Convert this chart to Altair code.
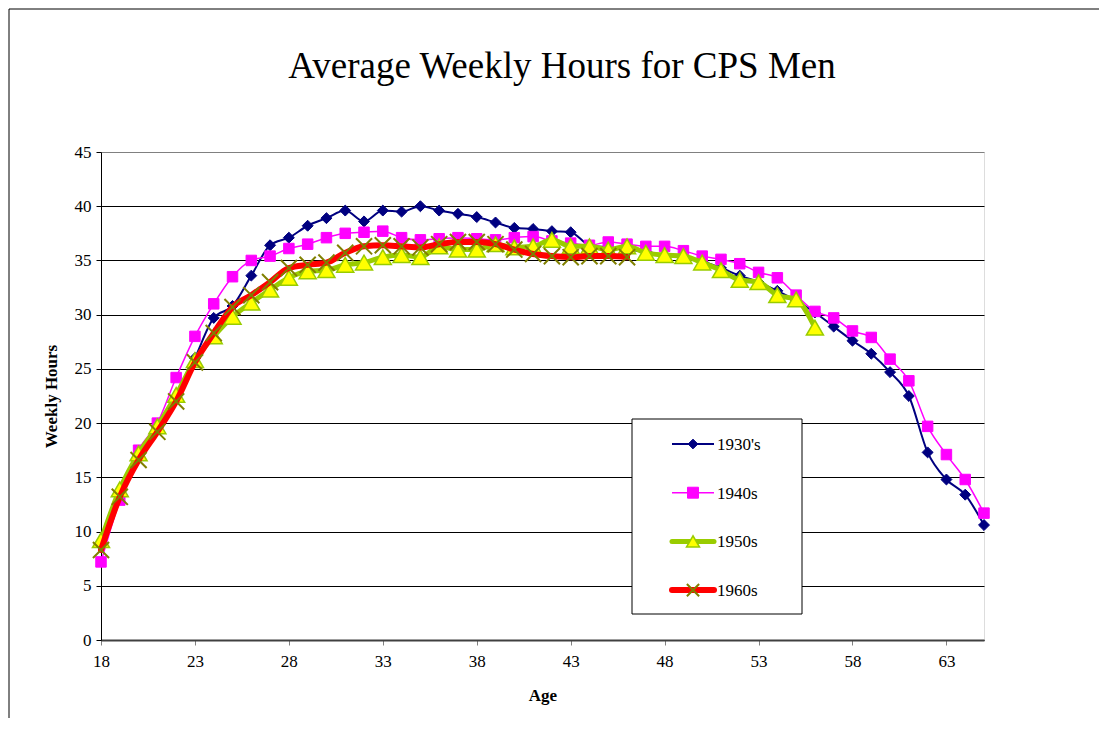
import altair as alt
import pandas as pd

# ---------------- data ----------------
ages_all = list(range(18, 66))

hours_1930 = [8.8, 13.6, 17.0, 19.6, 22.4, 26.0, 29.7, 30.8, 33.6, 36.4,
              37.1, 38.2, 38.9, 39.6, 38.6, 39.6, 39.5, 40.0, 39.6, 39.3,
              39.0, 38.5, 38.0, 37.9, 37.7, 37.6, 36.4, 36.2, 36.0, 35.8,
              35.5, 35.2, 34.9, 34.3, 33.6, 33.0, 32.2, 31.3, 30.2, 28.9,
              27.6, 26.4, 24.7, 22.5, 17.3, 14.8, 13.4, 10.6]

hours_1940 = [7.2, 12.9, 17.5, 20.0, 24.2, 28.0, 31.0, 33.5, 35.0, 35.4,
              36.1, 36.5, 37.1, 37.5, 37.6, 37.7, 37.1, 36.9, 37.0, 37.1,
              37.0, 36.9, 37.1, 37.2, 36.8, 36.6, 36.4, 36.7, 36.5, 36.3,
              36.3, 35.9, 35.4, 35.1, 34.7, 33.9, 33.4, 31.8, 30.3, 29.7,
              28.5, 27.9, 25.9, 23.9, 19.7, 17.1, 14.8, 11.7]

hours_1950 = [9.2, 13.9, 17.2, 19.7, 22.6, 25.8, 28.0, 29.8, 31.1, 32.3,
              33.4, 34.0, 34.1, 34.6, 34.8, 35.3, 35.5, 35.3, 36.3, 36.0,
              36.0, 36.5, 36.2, 36.3, 36.9, 36.3, 36.3, 36.0, 36.3, 35.7,
              35.5, 35.4, 34.8, 34.1, 33.2, 33.0, 31.8, 31.4, 28.8]

hours_1960 = [8.3, 13.2, 16.6, 19.2, 22.0, 25.6, 28.3, 30.7, 31.8, 33.0,
              34.3, 34.6, 34.8, 35.7, 36.3, 36.4, 36.3, 36.2, 36.5, 36.7,
              36.7, 36.5, 36.0, 35.6, 35.4, 35.3, 35.4, 35.4, 35.3]

series_names = ["1930's", "1940s", "1950s", "1960s"]
series_values = [hours_1930, hours_1940, hours_1950, hours_1960]

x_ticks = [18, 23, 28, 33, 38, 43, 48, 53, 58, 63]
y_ticks = [0, 5, 10, 15, 20, 25, 30, 35, 40, 45]

title_text = "Average Weekly Hours for CPS Men"

# ---------------- styles ----------------
FONT = "Liberation Serif"
X_PATH = "M-1,-1L1,1M-1,1L1,-1"
styles = {
    "1930's": dict(line="#000080", lw=2, shape="diamond", fill="#000080",
                   stroke="#000080", sw=1, size=120, lsize=95),
    "1940s": dict(line="#FF00FF", lw=1.5, shape="square", fill="#FF00FF",
                  stroke="#FF00FF", sw=1, size=110, lsize=120),
    "1950s": dict(line="#99CC00", lw=5, shape="triangle-up", fill="#FFFF00",
                  stroke="#99CC00", sw=1.5, size=290, lsize=170),
    "1960s": dict(line="#FF0000", lw=6, shape=X_PATH, fill="#808000",
                  stroke="#808000", sw=2, size=260, lsize=150),
}

W, H = 883, 488

x_enc = alt.X(
    "age:Q",
    title="Age",
    scale=alt.Scale(domain=[18, 65], nice=False, zero=False),
    axis=alt.Axis(
        values=x_ticks, grid=False, domainColor="#404040", domainWidth=2,
        tickColor="#808080", tickSize=5, tickWidth=1,
        labelFont=FONT, labelFontSize=17, labelColor="black", labelPadding=8,
        labelFlush=False,
        titleFont=FONT, titleFontSize=17, titleFontWeight="bold",
        titleColor="black", titlePadding=18,
    ),
)
y_enc = alt.Y(
    "hours:Q",
    title="Weekly Hours",
    scale=alt.Scale(domain=[0, 45], nice=False),
    axis=alt.Axis(
        values=y_ticks, grid=True,
        gridColor=alt.condition("datum.value == 45", alt.value("#808080"), alt.value("black")),
        gridWidth=1, domainColor="black", domainWidth=1,
        tickColor="black", tickSize=5,
        labelFont=FONT, labelFontSize=17, labelColor="black", labelPadding=5,
        titleFont=FONT, titleFontSize=17, titleFontWeight="bold",
        titleColor="black", titlePadding=14,
    ),
)

one = pd.DataFrame({"k": [0]})

layers = []
# outer chart-area frame
layers.append(
    alt.Chart(one).mark_rect(fillOpacity=0, stroke="black", strokeWidth=1).encode(
        x=alt.value(-92), x2=alt.value(1300), y=alt.value(-143), y2=alt.value(900)
    )
)
# chart title
layers.append(
    alt.Chart(one).mark_text(align="center", baseline="alphabetic", font=FONT,
                             fontSize=37, color="black").encode(
        x=alt.value(461), y=alt.value(-74), text=alt.value(title_text)
    )
)

for name, vals in zip(series_names, series_values):
    st = styles[name]
    df = pd.DataFrame({"age": ages_all[: len(vals)], "hours": vals, "series": name})
    layers.append(
        alt.Chart(df).mark_line(
            interpolate="monotone", color=st["line"], strokeWidth=st["lw"],
            strokeJoin="round", strokeCap="round"
        ).encode(x=x_enc, y=y_enc)
    )
    pt_kwargs = dict(shape=st["shape"], size=st["size"], stroke=st["stroke"],
                     strokeWidth=st["sw"], opacity=1)
    if name == "1960s":
        pt_kwargs.update(filled=False)
    else:
        pt_kwargs.update(filled=True, fill=st["fill"], fillOpacity=1)
    layers.append(alt.Chart(df).mark_point(**pt_kwargs).encode(x=x_enc, y=y_enc))

# ---------------- manual legend ----------------
LX0, LX1, LY0, LY1 = 531, 701, 267, 462
first_y, step = 292, 48.7
layers.append(
    alt.Chart(one).mark_rect(fill="white", stroke="black", strokeWidth=1).encode(
        x=alt.value(LX0), x2=alt.value(LX1), y=alt.value(LY0), y2=alt.value(LY1)
    )
)
for i, name in enumerate(series_names):
    st = styles[name]
    yy = first_y + step * i
    layers.append(
        alt.Chart(one).mark_rule(color=st["line"], strokeWidth=st["lw"],
                                 strokeCap="round" if st["lw"] > 3 else "butt").encode(
            x=alt.value(571), x2=alt.value(613), y=alt.value(yy)
        )
    )
    pk = dict(shape=st["shape"], size=st["lsize"], stroke=st["stroke"],
              strokeWidth=st["sw"], opacity=1)
    if name == "1960s":
        pk.update(filled=False)
    else:
        pk.update(filled=True, fill=st["fill"], fillOpacity=1)
    layers.append(
        alt.Chart(one).mark_point(**pk).encode(x=alt.value(592), y=alt.value(yy))
    )
    layers.append(
        alt.Chart(one).mark_text(align="left", baseline="middle", font=FONT,
                                 fontSize=17, color="black").encode(
            x=alt.value(616), y=alt.value(yy + 1), text=alt.value(name)
        )
    )

chart = alt.layer(*layers).properties(
    width=W,
    height=H,
    autosize=alt.AutoSizeParams(type="none"),
    padding={"left": 93, "top": 144, "right": 115, "bottom": 78},
).configure_view(stroke="#808080", strokeWidth=1).configure(background="white")

chart.save("out.html", embed_options={"renderer": "svg", "actions": False})
